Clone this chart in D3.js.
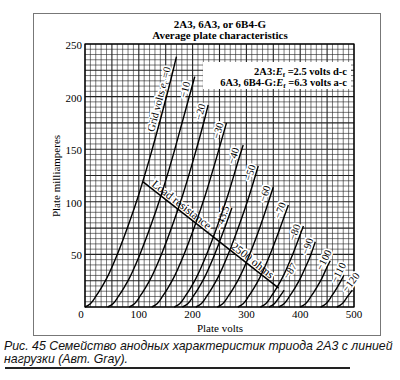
<!DOCTYPE html>
<html><head><meta charset="utf-8">
<script src="https://cdn.jsdelivr.net/npm/d3@7"></script>
<style>body{margin:0;background:#fff} svg{display:block}</style>
</head><body>
<script>
// ---- data ----
const xTicks = [0, 100, 200, 300, 400, 500];
const yTicks = [0, 50, 100, 150, 200, 250];
const gridVolts = [0, -10, -20, -30, -40, -43.5, -50, -60, -70, -80, -87, -90, -100, -110, -120];
const curveLabels = ["=0", "\u221210", "\u221220", "\u221230", "\u221240", "\u221243.5", "\u221250", "\u221260", "\u221270", "\u221280", "\u221287", "\u221290", "\u2212100", "\u2212110", "\u2212120"];
const labelMA = [196, 205, 184, 166, 142, 83, 126, 106, 90, 69, 31, 56, 42, 30, 20];
const curve0    = [[0,0],[10,3],[20,10],[30,18],[40,27],[60,50],[80,77],[100,107],[120,141],[140,178],[160,217],[170,238]];
const curveM10  = [[42,0],[52,3],[62,10],[72,18],[82,27],[102,50],[122,77],[142,107],[162,141],[182,178],[204,219]];
const curveM20  = [[82,0],[92,3],[102,10],[112,18],[122,27],[142,50],[162,77],[182,107],[202,141],[222,178],[229,192]];
const curveM30  = [[124,0],[134,3],[144,10],[154,18],[164,27],[184,50],[204,77],[224,107],[244,141],[263,175]];
const curveM40  = [[166,0],[176,3],[186,10],[196,18],[206,27],[226,50],[246,77],[266,107],[286,141],[294,154]];
const curveM435 = [[181,0],[191,3],[201,10],[211,18],[221,27],[241,50],[261,77],[273,94]];
const curveM50  = [[206,0],[216,3],[226,10],[236,18],[246,27],[266,50],[286,77],[306,107],[322,134]];
const curveM60  = [[246,0],[256,3],[266,10],[276,18],[286,27],[306,50],[326,77],[350,114]];
const curveM70  = [[284,0],[294,3],[304,10],[314,18],[324,27],[344,50],[364,77],[378,97]];
const curveM80  = [[326,0],[336,3],[346,10],[356,18],[366,27],[386,50],[406,77]];
const curveM87  = [[342,0],[352,3],[362,10],[370,16]];
const curveM90  = [[360,0],[370,3],[380,10],[390,18],[400,27],[410,38],[420,50],[428,62]];
const curveM100 = [[400,0],[410,3],[420,10],[430,18],[440,27],[450,38],[456,44]];
const curveM110 = [[438,0],[448,3],[458,10],[468,18],[478,27],[481,30]];
const curveM120 = [[468,0],[478,3],[488,10],[497,16]];
const curves = [curve0, curveM10, curveM20, curveM30, curveM40, curveM435, curveM50, curveM60, curveM70, curveM80, curveM87, curveM90, curveM100, curveM110, curveM120];
const loadLine = [[108, 119], [360, 18]];
const loadLabels = ["Load resistance", "2500 ohms"];
const loadLabelVolts = [173, 305];
const titleLines = ["2A3, 6A3, or 6B4-G", "Average plate characteristics"];
const annotationLines = [["2A3:", "=2.5 volts d-c"], ["6A3, 6B4-G:", "=6.3 volts a-c"]];
const captionLines = ["Рис. 45 Семейство анодных характеристик триода 2А3 с линией", "нагрузки (Авт. Gray)."];

// ---- drawing ----
const W = 400, H = 380;
const svg = d3.select("body").append("svg").attr("width", W).attr("height", H);
const serif = "'Liberation Serif', 'DejaVu Serif', serif";
const x = d3.scaleLinear().domain([0, 500]).range([85, 354]);
const y = d3.scaleLinear().domain([0, 250]).range([307, 44]);

// outer frame
svg.append("rect").attr("x", 33.5).attr("y", 13.5).attr("width", 347).attr("height", 322)
  .attr("fill", "none").attr("stroke", "#777").attr("stroke-width", 1);

// grid
const grid = svg.append("g").attr("stroke", "#222");
d3.range(0, 501, 10).forEach(v => grid.append("line")
  .attr("x1", x(v)).attr("x2", x(v)).attr("y1", y(0)).attr("y2", y(250))
  .attr("stroke-width", v % 50 === 0 ? 1.1 : 0.6));
d3.range(0, 251, 5).forEach(m => grid.append("line")
  .attr("x1", x(0)).attr("x2", x(500)).attr("y1", y(m)).attr("y2", y(m))
  .attr("stroke-width", m % 25 === 0 ? 1.1 : 0.6));
svg.append("rect").attr("x", x(0)).attr("y", y(250)).attr("width", x(500) - x(0)).attr("height", y(0) - y(250))
  .attr("fill", "none").attr("stroke", "#000").attr("stroke-width", 1.2);

// annotation box background
svg.append("rect").attr("x", 203).attr("y", 62).attr("width", 148).attr("height", 27).attr("fill", "#fff");

// label placement along curves
function placeOn(pts, m) {
  let i = pts.findIndex(p => p[1] >= m);
  let a, b;
  if (i === -1) { a = pts[pts.length - 2]; b = pts[pts.length - 1]; }
  else if (i === 0) { a = pts[0]; b = pts[1]; }
  else { a = pts[i - 1]; b = pts[i]; }
  const t = (m - a[1]) / (b[1] - a[1]);
  const v = a[0] + t * (b[0] - a[0]);
  const ang = Math.atan2(y(b[1]) - y(a[1]), x(b[0]) - x(a[0])) * 180 / Math.PI;
  return { px: x(v), py: y(m), ang };
}

const haloLayer = svg.append("g");
const curveLayer = svg.append("g");
const textLayer = svg.append("g");

function addLabel(px, py, ang, build, size, off) {
  [haloLayer, textLayer].forEach((layer, k) => {
    const t = layer.append("text")
      .attr("transform", `translate(${px},${py}) rotate(${ang})`)
      .attr("y", -off).attr("text-anchor", "middle")
      .attr("font-family", serif).attr("font-size", size).attr("fill", "#000");
    if (k === 0) t.attr("stroke", "#fff").attr("stroke-width", 3.5).attr("stroke-linejoin", "round");
    build(t);
  });
}

const lineGen = d3.line().x(d => x(d[0])).y(d => y(d[1])).curve(d3.curveMonotoneX);
curves.forEach((pts, i) => {
  curveLayer.append("path").attr("d", lineGen(pts)).attr("fill", "none")
    .attr("stroke", "#000").attr("stroke-width", 1.4);
  const p = placeOn(pts, labelMA[i]);
  if (i === 0) {
    addLabel(p.px, p.py, p.ang, t => {
      t.append("tspan").text("Grid volts ");
      t.append("tspan").attr("font-style", "italic").text("e");
      t.append("tspan").attr("font-size", 7).attr("dy", 2).text("c");
      t.append("tspan").attr("dy", -2).text(" " + curveLabels[0]);
    }, 10.5, 3);
  } else {
    addLabel(p.px, p.py, p.ang, t => t.text(curveLabels[i]), 10.5, 2.5);
  }
});

// load line
curveLayer.append("line")
  .attr("x1", x(loadLine[0][0])).attr("y1", y(loadLine[0][1]))
  .attr("x2", x(loadLine[1][0])).attr("y2", y(loadLine[1][1]))
  .attr("stroke", "#000").attr("stroke-width", 1.5);
const llAng = Math.atan2(y(loadLine[1][1]) - y(loadLine[0][1]), x(loadLine[1][0]) - x(loadLine[0][0])) * 180 / Math.PI;
const llAt = v => loadLine[0][1] + (v - loadLine[0][0]) * (loadLine[1][1] - loadLine[0][1]) / (loadLine[1][0] - loadLine[0][0]);
loadLabels.forEach((s, i) => {
  addLabel(x(loadLabelVolts[i]), y(llAt(loadLabelVolts[i])), llAng, t => t.text(s), 11.5, 2);
});

// tick labels
xTicks.forEach(v => svg.append("text").attr("x", v === 0 ? 81 : x(v)).attr("y", 318)
  .attr("text-anchor", "middle").attr("font-family", serif).attr("font-size", 11).text(v));
yTicks.filter(v => v > 0).forEach(v => svg.append("text").attr("x", 82).attr("y", y(v) + 5)
  .attr("text-anchor", "end").attr("font-family", serif).attr("font-size", 11).text(v));

// axis titles
svg.append("text").attr("x", 220).attr("y", 332).attr("text-anchor", "middle")
  .attr("font-family", serif).attr("font-size", 11).text("Plate volts");
svg.append("text").attr("transform", "translate(60,176) rotate(-90)").attr("text-anchor", "middle")
  .attr("font-family", serif).attr("font-size", 11).text("Plate milliamperes");

// title
titleLines.forEach((s, i) => svg.append("text").attr("x", 220).attr("y", 28 + i * 11)
  .attr("text-anchor", "middle").attr("font-family", serif).attr("font-size", 11)
  .attr("font-weight", "bold").text(s));

// annotation text
annotationLines.forEach((a, i) => {
  const t = svg.append("text").attr("x", 347).attr("y", 75 + i * 11).attr("text-anchor", "end")
    .attr("font-family", serif).attr("font-size", 10.5).attr("font-weight", "bold");
  t.append("tspan").text(a[0]);
  t.append("tspan").attr("font-style", "italic").text("E");
  t.append("tspan").attr("font-size", 7).attr("dy", 2).text("f");
  t.append("tspan").attr("dy", -2).text(" " + a[1]);
});

// caption (font size fitted so line 1 spans the printed width)
const capTexts = captionLines.map((s, i) => svg.append("text").attr("x", 4).attr("y", 350 + i * 13)
  .attr("font-family", "'Liberation Sans', Arial, sans-serif").attr("font-style", "italic")
  .attr("font-size", 13).attr("fill", "#111").text(s));
const capFs = 13 * 389 / capTexts[0].node().getComputedTextLength();
capTexts.forEach(t => t.attr("font-size", capFs));
svg.append("line").attr("x1", 5).attr("x2", 350).attr("y1", 368).attr("y2", 368)
  .attr("stroke", "#222").attr("stroke-width", 2);
</script>
</body></html>
